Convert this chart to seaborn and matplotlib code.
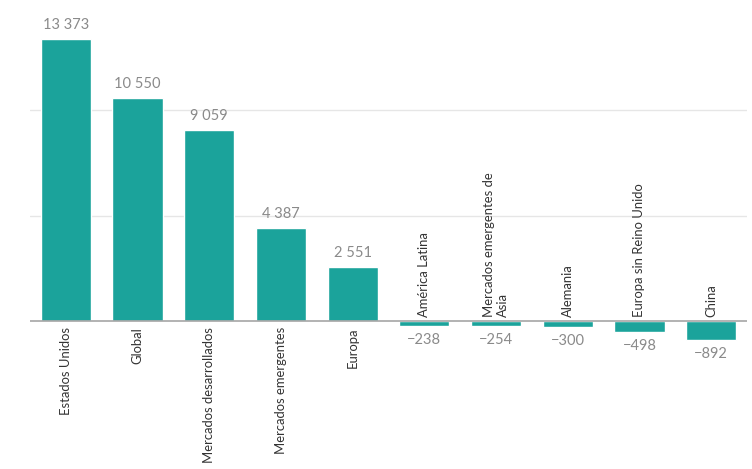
import pandas as pd
import matplotlib.pyplot as plt
import seaborn as sns

categories = ["Estados Unidos", "Global", "Mercados desarrollados", "Mercados emergentes",
              "Europa", "América Latina", "Mercados emergentes de\nAsia", "Alemania",
              "Europa sin Reino Unido", "China"]
values = [13373, 10550, 9059, 4387, 2551, -238, -254, -300, -498, -892]
value_labels = ["13 373", "10 550", "9 059", "4 387", "2 551",
                "\u2212238", "\u2212254", "\u2212300", "\u2212498", "\u2212892"]

df = pd.DataFrame({"cat": categories, "val": values})

sns.set_style("white")
plt.rcParams["font.family"] = ["Lato", "DejaVu Sans"]

fig = plt.figure(figsize=(7.52, 4.69), dpi=100)
ax = fig.add_axes([30 / 752, 0, 717 / 752, 1])

sns.barplot(data=df, x="cat", y="val", color="#1ba39b", saturation=1, width=0.7, ax=ax)

px = 5000 / 105.5  # data units per pixel
ax.set_ylim(-148 * px, 321 * px)
ax.set_xlim(-0.5, 9.5)
ax.set_yticks([5000, 10000])
ax.set_yticklabels([])
ax.set_xticks([])
ax.set_xlabel("")
ax.set_ylabel("")
ax.tick_params(length=0)
ax.grid(axis="y", color="#e6e6e6", linewidth=1)
ax.set_axisbelow(True)
for s in ax.spines.values():
    s.set_visible(False)
ax.axhline(0, color="#a6a6a6", linewidth=1.2, zorder=3)

for i, (v, lab, cat) in enumerate(zip(values, value_labels, categories)):
    if v >= 0:
        ax.text(i, v + 7 * px, lab, ha="center", va="bottom", fontsize=10.5, color="#8a8a8a")
        ax.text(i, -6 * px, cat, rotation=90, ha="center", va="top", fontsize=9.4,
                color="#333333", multialignment="left")
    else:
        ax.text(i, v - 7 * px, lab, ha="center", va="top", fontsize=10.5, color="#8a8a8a")
        ax.text(i, 4 * px, cat, rotation=90, ha="center", va="bottom", fontsize=9.4,
                color="#333333", multialignment="left")

fig.savefig("out.png", dpi=100)
